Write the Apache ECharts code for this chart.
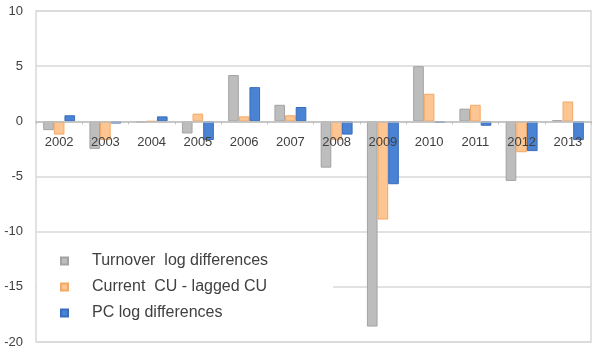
<!DOCTYPE html>
<html>
<head>
<meta charset="utf-8">
<script src="https://cdn.jsdelivr.net/npm/echarts@6/dist/echarts.min.js"></script>
<style>
  html, body { margin: 0; padding: 0; background: #fff; }
  #chart { width: 593px; height: 349px; }
</style>
</head>
<body>
<div id="chart"></div>
<script>
// Years on the category axis
const years = ['2002', '2003', '2004', '2005', '2006', '2007', '2008', '2009', '2010', '2011', '2012', '2013'];

// Series values (percentage points)
const turnoverLogDiff = [-0.8, -2.5, -0.1, -1.1, 4.2, 1.5, -4.2, -18.6, 5.0, 1.15, -5.4, 0.1];
const cuChange        = [-1.2, -1.7, 0.0, 0.7, 0.45, 0.55, -1.7, -8.9, 2.5, 1.5, -2.8, 1.8];
const pcLogDiff       = [0.55, -0.2, 0.45, -1.7, 3.1, 1.3, -1.2, -5.7, -0.15, -0.4, -2.7, -1.7];

// Legend names
const seriesNames = ['Turnover  log differences', 'Current  CU - lagged CU', 'PC log differences'];

// Value-axis range
const yMin = -20, yMax = 10, yStep = 5;

const W = 593, H = 349;
const gridTop = 11, gridBottom = 7, gridLeft = 36, gridRight = 2;
const plotH = H - gridTop - gridBottom;
// Distance from the bottom of the plot up to the zero line; the category axis sits there
const zeroLift = plotH * (0 - yMin) / (yMax - yMin);

const chart = echarts.init(document.getElementById('chart'), null, { renderer: 'canvas', width: W, height: H });

const font = 'Liberation Sans, Arial, sans-serif';
const gridColor = '#d9d9d9';

function barSeries(name, data, fill, edge) {
  return {
    name: name,
    type: 'bar',
    data: data,
    barGap: '0%',
    barCategoryGap: '31%',
    itemStyle: { color: fill, borderColor: edge, borderWidth: 1 }
  };
}

chart.setOption({
  animation: false,
  backgroundColor: '#ffffff',
  grid: {
    left: gridLeft, right: gridRight, top: gridTop, bottom: gridBottom,
    outerBoundsMode: 'none',
    containLabel: false,
    show: true, borderColor: gridColor, borderWidth: 1.5
  },
  legend: {
    orient: 'vertical',
    left: 37,
    top: 238,
    backgroundColor: '#ffffff',
    padding: [15, 65, 9, 23],
    itemGap: 10,
    itemWidth: 7,
    itemHeight: 7,
    icon: 'rect',
    textStyle: { fontFamily: font, fontSize: 16, color: '#404040', lineHeight: 16, padding: [0, 0, 0, 19] },
    data: seriesNames
  },
  xAxis: {
    type: 'category',
    data: years,
    z: 5,
    position: 'bottom',
    offset: -zeroLift,
    axisLine: { onZero: false, lineStyle: { color: '#bfbfbf', width: 1.5 } },
    axisTick: { show: true, length: 3, lineStyle: { color: '#bfbfbf' } },
    axisLabel: { fontFamily: font, fontSize: 13, color: '#404040', margin: 15 },
    splitLine: { show: false }
  },
  yAxis: {
    type: 'value',
    min: yMin, max: yMax, interval: yStep,
    axisLine: { show: false },
    axisTick: { show: false },
    axisLabel: { fontFamily: font, fontSize: 13, color: '#404040', margin: 13 },
    splitLine: { lineStyle: { color: gridColor, width: 1.5 } }
  },
  series: [
    barSeries(seriesNames[0], turnoverLogDiff, '#bdbdbd', '#a3a3a3'),
    barSeries(seriesNames[1], cuChange, '#fdc591', '#f2a866'),
    barSeries(seriesNames[2], pcLogDiff, '#4a82d4', '#3a6cbb')
  ]
});
</script>
</body>
</html>
